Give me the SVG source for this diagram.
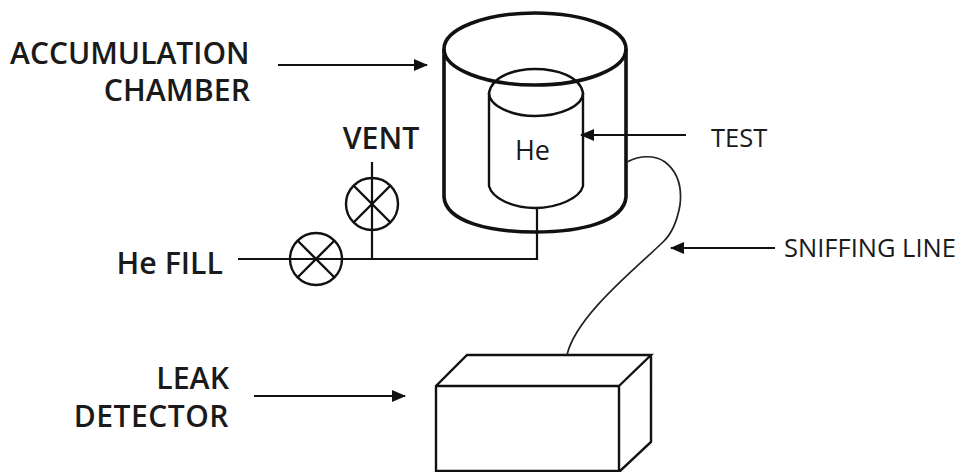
<svg xmlns="http://www.w3.org/2000/svg" width="959" height="472" viewBox="0 0 959 472">
<defs>
<style>
.t{font-family:"Open Sans","Noto Sans","DejaVu Sans",sans-serif;fill:#1a1a1a}
.b{font-weight:600;font-size:30.3px}
.n{font-size:25.5px}
.l{fill:none;stroke:#111;stroke-width:2.2}
.s{fill:none;stroke:#222;stroke-width:1.7}
.h{fill:none;stroke:#111;stroke-width:3.6}
.m{fill:none;stroke:#111;stroke-width:2.4}
</style>
<marker id="a" markerUnits="userSpaceOnUse" markerWidth="14" markerHeight="12" refX="13" refY="6" orient="auto"><path d="M0 0L14 6L0 12Z" fill="#111"/></marker>
</defs>
<rect width="959" height="472" fill="#fff"/>
<g id="chamber">
<ellipse cx="535" cy="49" rx="91" ry="36" class="h"/>
<path d="M444 49V197C446 222 490 232 535 232C580 232 624 222 626 197V49" class="h"/>
</g>
<g id="test-cylinder">
<path d="M489 93C492 76 515 69 535 69C556 69 580 76 583 93C583 106 560 116 535 116C512 116 489 106 489 93Z" class="m"/>
<path d="M489 93V186C492 198 512 208 535 208C558 208 580 198 583 186V93" class="m"/>
<text x="532.500" y="160" class="t" font-size="27" text-anchor="middle">He</text>
</g>
<g id="vent-valve">
<circle cx="372" cy="204" r="26" class="m"/>
<path d="M354 186L390 222M390 186L354 222" class="m"/>
</g>
<g id="fill-valve">
<circle cx="316" cy="259" r="26" class="m"/>
<path d="M298 241L334 277M334 241L298 277" class="m"/>
</g>
<g id="leak-detector">
<path d="M436 386H619V472M436 472V386L467 355H651L619 386M651 355V442L619 472M436 471H619" class="m"/>
</g>
<g id="connectors">
<path d="M278 65H427" class="l" marker-end="url(#a)"/>
<path d="M686 135H581" class="l" marker-end="url(#a)"/>
<path d="M775 248H671" class="l" marker-end="url(#a)"/>
<path d="M254 396H405" class="l" marker-end="url(#a)"/>
<path d="M238 259H537V208" class="l"/>
<path d="M372 162V259" class="l"/>
<path d="M627 162C640 155 655 155 665 162C678 172 682 188 680 205C677 222 672 233 664 241C640 265 576 315 567 355" class="s"/>
</g>
<g id="labels">
<text class="t b" text-anchor="end"><tspan x="249.500" y="63.500" style="font-size:30px">ACCUMULATION</tspan><tspan x="250" y="100.500">CHAMBER</tspan></text>
<text x="381" y="149" class="t b" text-anchor="middle">VENT</text>
<text x="223" y="274" class="t b" text-anchor="end">He FILL</text>
<text x="229" y="389" class="t b" text-anchor="end">LEAK</text>
<text x="229" y="426.500" class="t b" text-anchor="end" style="font-size:30px;letter-spacing:.5px">DETECTOR</text>
<text x="711" y="146.500" class="t n">TEST</text>
<text x="784" y="257" class="t n">SNIFFING LINE</text>
</g>
</svg>
